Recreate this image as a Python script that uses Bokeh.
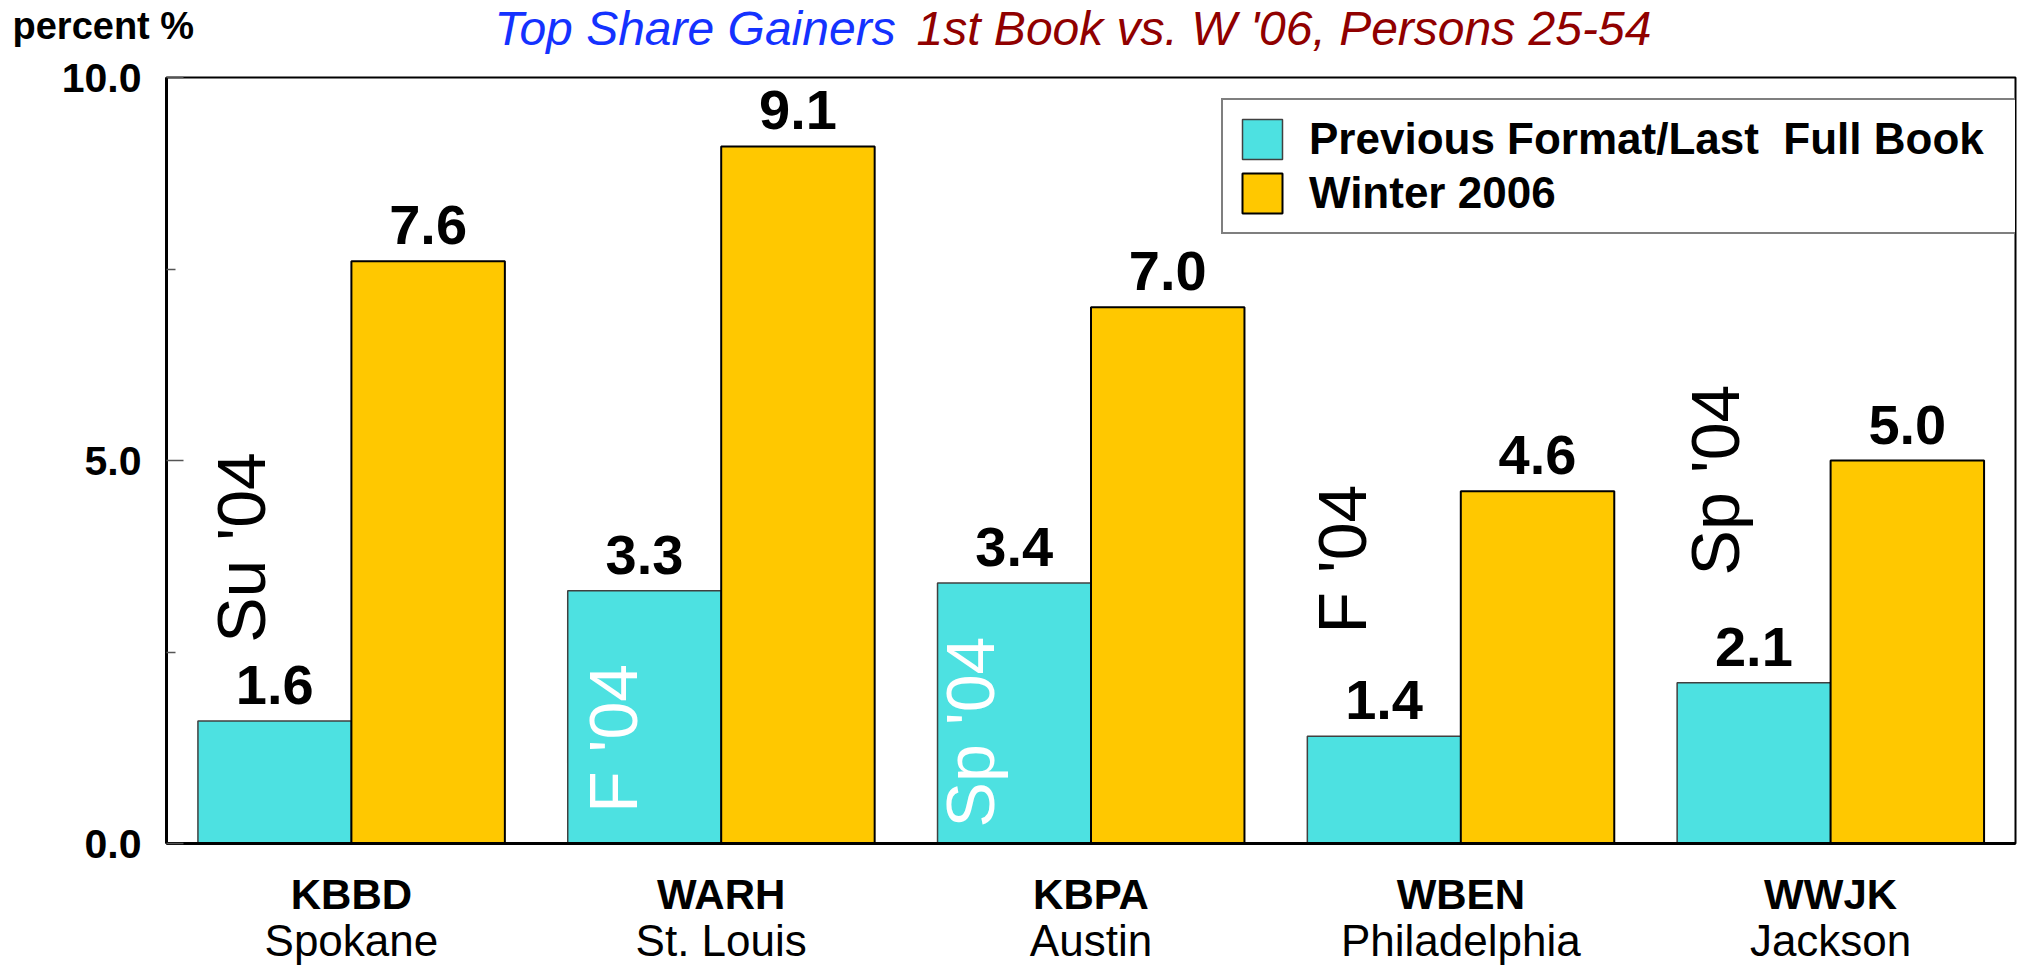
import numpy as np
from bokeh.plotting import figure
from bokeh.layouts import column
from bokeh.models import (Range1d, LinearAxis, FixedTicker, NumeralTickFormatter,
                          Legend, LegendItem, ColumnDataSource)
from bokeh.core.properties import value
from bokeh.embed import file_html
from bokeh.resources import INLINE

# ---------------- data ----------------
stations = ["KBBD", "WARH", "KBPA", "WBEN", "WWJK"]
cities = ["Spokane", "St. Louis", "Austin", "Philadelphia", "Jackson"]
previous = [1.6, 3.3, 3.4, 1.4, 2.1]
winter06 = [7.6, 9.1, 7.0, 4.6, 5.0]
periods = ["Su '04", "F '04", "Sp '04", "F '04", "Sp '04"]
series_names = ["Previous Format/Last  Full Book", "Winter 2006"]
y_ticks = [0, 5, 10]
y_minor_ticks = [2.5, 7.5]
title_parts = ["Top Share Gainers", "1st Book vs. W '06, Persons 25-54"]
y_title = "percent %"

# ---------------- layout / style ----------------
FONT = "Liberation Sans"
W, H = 2025, 971
FL, FR = 166, 2015                 # frame left / right (px)
FRAME_TOP, FRAME_BOT = 77, 843     # frame top / bottom (px)
TOP_H = 54                         # title strip
PAD_T, PAD_B = FRAME_TOP - TOP_H, 24
MAIN_H = PAD_T + (FRAME_BOT - FRAME_TOP) + PAD_B
BOT_H = H - TOP_H - MAIN_H
N = len(stations)
YMAX = 10.0
DODGE = 0.2075
BAR_W = 0.415
CYAN = "#4DE1E1"
GOLD = "#FFC800"
BASE_SHIFT = 0.32          # browser baseline correction (fraction of font size)

centers = [i + 0.5 for i in range(N)]
x_prev = [c - DODGE for c in centers]
x_win = [c + DODGE for c in centers]

# rotated period annotations: offset from the previous-bar centre (data units) and bottom y
period_dx = [-0.017, -0.011, -0.046, -0.040, -0.032]
period_y = [2.62, 0.40, 0.21, 2.74, 3.50]
period_colors = ["black", "white", "white", "black", "black"]

x_range = Range1d(0, N)

def strip_text(fig, x, y, text, size, style, color, align="left"):
    fig.text(x=x, y=[yy - BASE_SHIFT * size for yy in y], text=text,
             text_align=align, text_baseline="alphabetic",
             text_font=value(FONT), text_font_size=f"{size}px",
             text_font_style=style, text_color=color)

# ================= title strip =================
top = figure(width=W, height=TOP_H, x_range=Range1d(0, W), y_range=Range1d(TOP_H, 0),
             output_backend="svg", toolbar_location=None,
             x_axis_type=None, y_axis_type=None, frame_align=False,
             min_border_left=0, min_border_right=0, min_border_top=0, min_border_bottom=0)
top.outline_line_color = None
top.grid.visible = False
strip_text(top, [12], [38], [y_title], 38, "bold", "black")
strip_text(top, [494], [43.6], [title_parts[0]], 48, "italic", "#1432FF")
strip_text(top, [916], [43.6], [title_parts[1]], 48, "italic", "#900000")

# ================= main plot =================
p = figure(width=W, height=MAIN_H, x_range=x_range, y_range=Range1d(0, YMAX),
           output_backend="svg", toolbar_location=None,
           x_axis_type=None, y_axis_type=None, frame_align=False,
           min_border_left=FL, min_border_top=PAD_T,
           min_border_right=W - FR, min_border_bottom=PAD_B)
p.background_fill_color = "white"
p.border_fill_color = "white"
p.outline_line_color = "black"
p.outline_line_width = 2

src_prev = ColumnDataSource(dict(x=x_prev, top=previous,
                                 lab=[f"{v:.1f}" for v in previous]))
src_win = ColumnDataSource(dict(x=x_win, top=winter06,
                                lab=[f"{v:.1f}" for v in winter06]))
r_prev = p.vbar(x="x", top="top", bottom=0, width=BAR_W, source=src_prev,
                fill_color=CYAN, line_color="#404040", line_width=1.5)
r_win = p.vbar(x="x", top="top", bottom=0, width=BAR_W, source=src_win,
               fill_color=GOLD, line_color="black", line_width=2)

for src in (src_prev, src_win):
    p.text(x="x", y="top", text="lab", source=src, text_align="center",
           text_baseline="alphabetic", y_offset=-36,
           text_font=value(FONT), text_font_style="bold",
           text_font_size="56px", text_color="black")

src_per = ColumnDataSource(dict(
    x=[xp + d for xp, d in zip(x_prev, period_dx)], y=period_y,
    text=periods, color=period_colors))
p.text(x="x", y="y", text="text", source=src_per, angle=np.pi / 2,
       text_align="left", text_baseline="alphabetic", x_offset=-27,
       text_font=value(FONT), text_font_size="68px", text_color="color")

yaxis = LinearAxis(ticker=FixedTicker(ticks=y_ticks, minor_ticks=y_minor_ticks),
                   formatter=NumeralTickFormatter(format="0.0"))
yaxis.major_label_text_font = FONT
yaxis.major_label_text_font_size = "41px"
yaxis.major_label_text_font_style = "bold"
yaxis.major_label_text_color = "black"
yaxis.major_label_standoff = 25
yaxis.major_tick_in = 17
yaxis.major_tick_out = 0
yaxis.minor_tick_in = 9
yaxis.minor_tick_out = 0
yaxis.major_tick_line_color = "#555555"
yaxis.minor_tick_line_color = "#555555"
yaxis.major_tick_line_width = 1.5
yaxis.minor_tick_line_width = 1.5
yaxis.axis_line_color = "black"
yaxis.axis_line_width = 3
p.add_layout(yaxis, "left")

xaxis = LinearAxis(ticker=FixedTicker(ticks=[], minor_ticks=[]))
xaxis.major_tick_in = 0
xaxis.major_tick_out = 0
xaxis.minor_tick_in = 0
xaxis.minor_tick_out = 0
xaxis.major_label_standoff = 0
xaxis.major_label_text_font_size = "0px"
xaxis.axis_line_color = "black"
xaxis.axis_line_width = 3
p.add_layout(xaxis, "below")

legend = Legend(items=[LegendItem(label=series_names[0], renderers=[r_prev]),
                       LegendItem(label=series_names[1], renderers=[r_win])],
                location=(1055, 609), orientation="vertical",
                glyph_width=50, glyph_height=50, label_standoff=22,
                label_width=692, padding=14, spacing=4, margin=0,
                border_line_color="black", border_line_width=2,
                background_fill_color="white", background_fill_alpha=1.0,
                label_text_font=FONT, label_text_font_size="44px",
                label_text_font_style="bold", label_text_color="black")
p.add_layout(legend, "center")

# ================= category label strip =================
bot = figure(width=W, height=BOT_H, x_range=x_range, y_range=Range1d(BOT_H, 0),
             output_backend="svg", toolbar_location=None,
             x_axis_type=None, y_axis_type=None, frame_align=False,
             min_border_left=FL, min_border_right=W - FR,
             min_border_top=0, min_border_bottom=0)
bot.outline_line_color = None
bot.grid.visible = False
y0 = TOP_H + MAIN_H
strip_text(bot, centers, [907 - y0] * N, stations, 42, "bold", "black", align="center")
strip_text(bot, centers, [954 - y0] * N, cities, 44, "normal", "black", align="center")

layout = column(top, p, bot, spacing=0)
open("out.html", "w").write(file_html(layout, INLINE))
